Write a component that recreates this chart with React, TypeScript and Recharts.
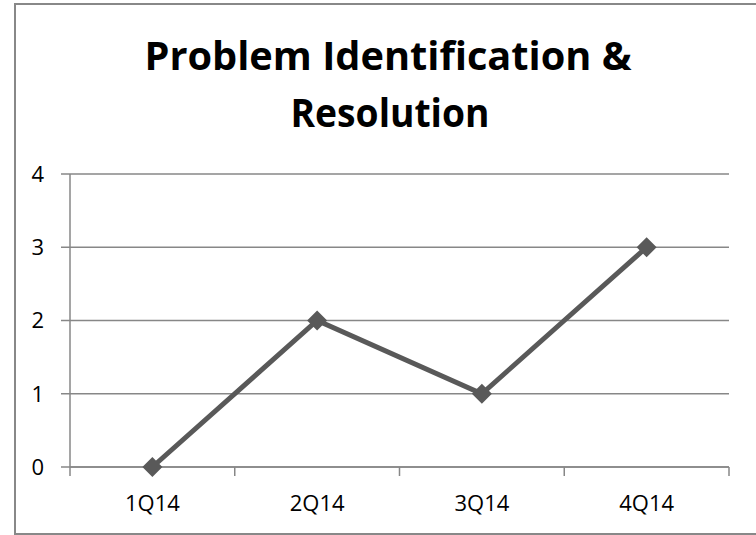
import { LineChart, Line, XAxis, YAxis, CartesianGrid } from "recharts";

// quarters and values
const QUARTERS = ["1Q14", "2Q14", "3Q14", "4Q14"];
const PROBLEMS = [0, 2, 1, 3];
const Y_TICKS = [0, 1, 2, 3, 4];

const GRID = "#878787";
const LINE = "#595959";
const FONT = "'Open Sans', 'DejaVu Sans', sans-serif";

// slot i spans [i, i+1] on the numeric x scale, the point sits in the middle
const data = QUARTERS.map((q, i) => ({ slot: i + 0.5, quarter: q, value: PROBLEMS[i] }));
const slotEdges = QUARTERS.map((_, i) => i).concat(QUARTERS.length);
const slotMiddles = data.map((d) => d.slot);

const Diamond = (props: any) => {
  const { cx, cy } = props;
  if (cx == null || cy == null) return <g />;
  const r = 10;
  return (
    <polygon
      points={`${cx},${cy - r} ${cx + r},${cy} ${cx},${cy + r} ${cx - r},${cy}`}
      fill={LINE}
    />
  );
};

export default function App() {
  return (
    <div style={{ position: "absolute", left: 0, top: 0, width: 756, height: 535, background: "#fff", overflow: "hidden" }}>
      <LineChart
        width={756}
        height={535}
        data={data}
        margin={{ top: 174, right: 27, left: 0, bottom: 9 }}
      >
        <CartesianGrid vertical={false} stroke={GRID} strokeWidth={1.5} />
        {/* boundary ticks between quarters, like the spreadsheet */}
        <XAxis
          xAxisId="edges"
          type="number"
          dataKey="slot"
          domain={[0, QUARTERS.length]}
          ticks={slotEdges}
          interval={0}
          height={9}
          tickSize={9}
          stroke={GRID}
          strokeWidth={1.5}
          tick={() => <g />}
        />
        {/* quarter labels centred in each slot */}
        <XAxis
          xAxisId="labels"
          type="number"
          dataKey="slot"
          domain={[0, QUARTERS.length]}
          ticks={slotMiddles}
          interval={0}
          height={50}
          axisLine={false}
          tickLine={false}
          tickSize={0}
          tickMargin={19}
          tickFormatter={(v: number) => QUARTERS[Math.floor(v)]}
          tick={{ fill: "#000", fontSize: 22, fontFamily: FONT }}
        />
        <YAxis
          domain={[0, 4]}
          ticks={Y_TICKS}
          interval={0}
          width={70}
          tickSize={9}
          tickMargin={17}
          stroke={GRID}
          strokeWidth={1.5}
          tick={{ fill: "#000", fontSize: 22, fontFamily: FONT }}
        />
        <Line
          xAxisId="edges"
          dataKey="value"
          stroke={LINE}
          strokeWidth={5}
          dot={<Diamond />}
          activeDot={false}
          isAnimationActive={false}
        />
      </LineChart>
      <svg width={756} height={535} style={{ position: "absolute", left: 0, top: 0, pointerEvents: "none" }}>
        <text x={388} y={70} textAnchor="middle" fontFamily={FONT} fontWeight={700} fontSize={40} textLength={487} lengthAdjust="spacingAndGlyphs" fill="#000">
          Problem Identification &amp;
        </text>
        <text x={390} y={127} textAnchor="middle" fontFamily={FONT} fontWeight={700} fontSize={40} textLength={199} lengthAdjust="spacingAndGlyphs" fill="#000">
          Resolution
        </text>
      </svg>
      <div style={{ position: "absolute", left: 14, top: 3, width: 800, height: 528, border: "2px solid #888", pointerEvents: "none" }} />
    </div>
  );
}
